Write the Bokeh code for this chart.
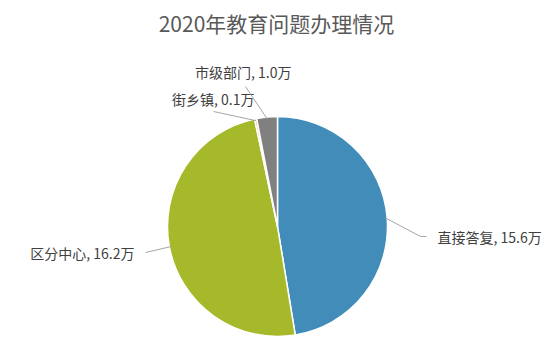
import math
from bokeh.plotting import figure
from bokeh.models import Range1d, ColumnDataSource
from bokeh.core.properties import value
from bokeh.embed import file_html
from bokeh.resources import INLINE

title = "2020年教育问题办理情况"
categories = ["直接答复", "区分中心", "街乡镇", "市级部门"]
values = [15.6, 16.2, 0.1, 1.0]
colors = ["#418CB8", "#A6B92B", "#F0A032", "#808080"]

W, H = 555, 357
FONT = value("Noto Sans CJK SC")

p = figure(width=W, height=H, output_backend="svg", toolbar_location=None,
           x_range=Range1d(0, W), y_range=Range1d(0, H),
           min_border=0, outline_line_color=None)
p.axis.visible = False
p.grid.visible = False
p.background_fill_color = "white"
p.border_fill_color = "white"

cx, cy, r = 277, H - 226, 110

total = sum(values)
starts, ends, mids = [], [], []
a = math.pi / 2
for v in values:
    s = a
    e = a - v / total * 2 * math.pi
    starts.append(s)
    ends.append(e)
    mids.append((s + e) / 2)
    a = e

src = ColumnDataSource(dict(x=[cx] * len(values), y=[cy] * len(values),
                            start=starts, end=ends, color=colors))
p.wedge(x="x", y="y", radius=r, start_angle="end", end_angle="start",
        fill_color="color", line_color="white", line_width=1.5, source=src)

# label layout (pixel positions, top-down y)
label_pos = [(437, 236, "left"), (134, 252, "right"), (254, 98, "right"), (291, 71, "right")]
leader_end = [[(420, 236), (426, 236)], [(145, 252)], [(213, 111)], [(245, 86)]]

for i, cat in enumerate(categories):
    m = mids[i]
    sx = cx + (r - 2) * math.cos(m)
    sy = cy + (r - 2) * math.sin(m)
    xs = [sx] + [pt[0] for pt in leader_end[i]]
    ys = [sy] + [H - pt[1] for pt in leader_end[i]]
    p.line(xs, ys, line_color="#A6A6A6", line_width=1)
    lx, ly, al = label_pos[i]
    p.text(x=[lx], y=[H - ly], text=[f"{cat}, {values[i]:.1f}万"],
           text_font=FONT, text_font_size="14px", text_color="#404040",
           text_align=al, text_baseline="middle")

p.text(x=[276], y=[H - 22], text=[title], text_font=FONT,
       text_font_size="21px", text_color="#595959",
       text_align="center", text_baseline="middle")

open("out.html", "w").write(file_html(p, INLINE))
